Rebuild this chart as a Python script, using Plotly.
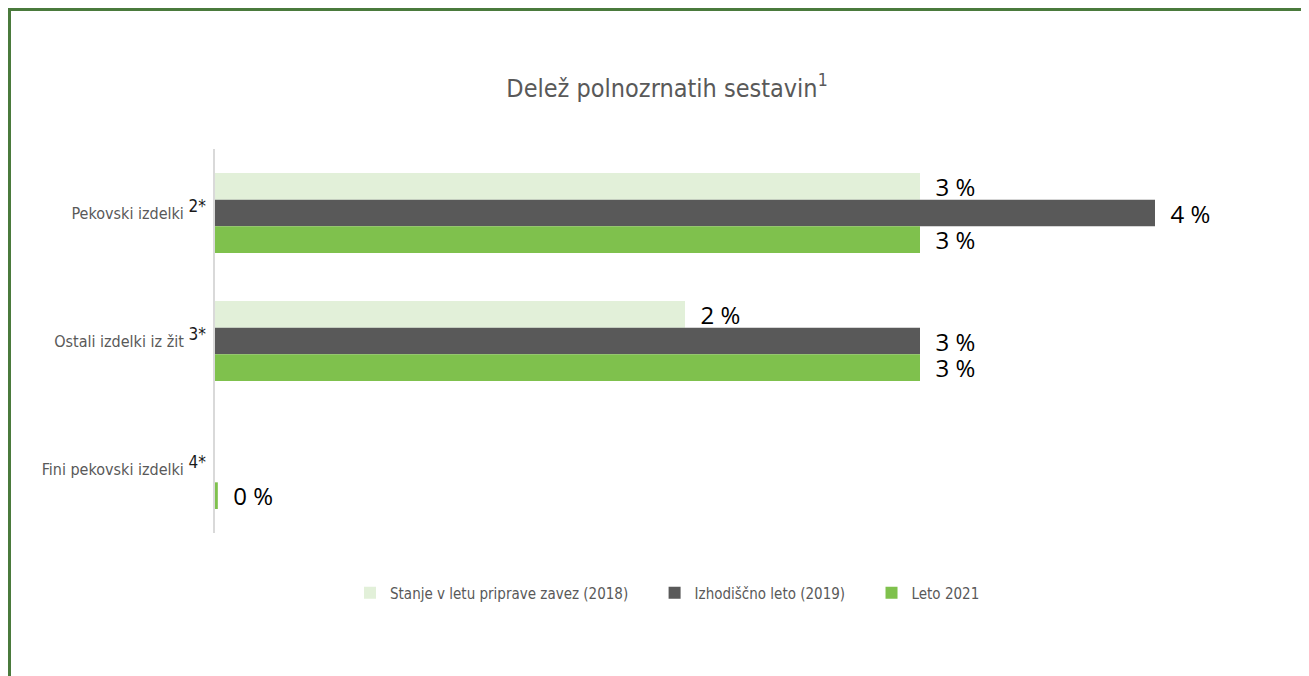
import plotly.graph_objects as go

# categories (top to bottom) and series values in percent
categories = [
    'Pekovski izdelki <span style="color:#1a1a1a"><sup><span style="font-size:17px">2*</span></sup></span>',
    'Ostali izdelki iz žit <span style="color:#1a1a1a"><sup><span style="font-size:17px">3*</span></sup></span>',
    'Fini pekovski izdelki <span style="color:#1a1a1a"><sup><span style="font-size:17px">4*</span></sup></span>',
]
stanje_2018 = [3, 2, None]
izhodiscno_2019 = [4, 3, None]
leto_2021 = [3, 3, 0.012]

series_names = ["Stanje v letu priprave zavez (2018)", "Izhodiščno leto (2019)", "Leto 2021"]
series_colors = ["#e2f0d9", "#595959", "#7fc14d"]

narrow = "Liberation Sans Narrow, Arial Narrow, DejaVu Sans Condensed, sans-serif"

W, H = 1309, 676
ml, mr, mt, mb = 207, 45, 141, 151
pw, ph = W - ml - mr, H - mt - mb

fig = go.Figure()
for name, vals, col in zip(series_names, [stanje_2018, izhodiscno_2019, leto_2021], series_colors):
    fig.add_trace(go.Bar(
        y=categories, x=vals, name=name + "\u00a0" * 5, orientation="h",
        marker=dict(color=col, line=dict(width=0)),
        texttemplate="\u00a0\u00a0%{x:.0f} %", textposition="outside",
        constraintext="none",
        textfont=dict(family="Open Sans, sans-serif", size=24, color="#000000"),
        cliponaxis=False,
    ))

# green frame round the chart (paper coordinates from pixel positions)
def px_x(p):
    return (p - ml) / pw

def px_y(q):
    return (H - mb - q) / ph

frame = dict(color="#4a7a3c", width=3)
fig.add_shape(type="line", xref="paper", yref="paper",
              x0=px_x(1.5), x1=px_x(1.5), y0=px_y(0), y1=px_y(H + 20), line=frame)
fig.add_shape(type="line", xref="paper", yref="paper",
              x0=px_x(0), x1=px_x(W + 20), y0=px_y(1.5), y1=px_y(1.5), line=frame)

fig.update_layout(
    width=W, height=H,
    margin=dict(l=ml, r=mr, t=mt, b=mb),
    paper_bgcolor="white", plot_bgcolor="white",
    barmode="group", bargap=0.375, bargroupgap=0,
    title=dict(text="Delež polnozrnatih sestavin<sup>1</sup>",
               x=659 / W, xref="container", xanchor="center",
               y=1 - 80 / H, yref="container", yanchor="middle",
               font=dict(family=narrow, size=25, color="#595959")),
    xaxis=dict(range=[0, pw / 235], showgrid=False, zeroline=False,
               showticklabels=False, showline=False, fixedrange=True),
    yaxis=dict(autorange="reversed", showgrid=False, showline=True,
               linecolor="#d9d9d9", linewidth=2, ticks="", ticklabelstandoff=4,
               tickfont=dict(family=narrow, size=16, color="#595959")),
    legend=dict(orientation="h", xref="container", x=670 / W, xanchor="center",
                yref="container", y=1 - 585 / H, yanchor="middle",
                font=dict(family=narrow, size=15, color="#595959"),
                traceorder="normal"),
    showlegend=True,
)

fig.write_html("out.html")
